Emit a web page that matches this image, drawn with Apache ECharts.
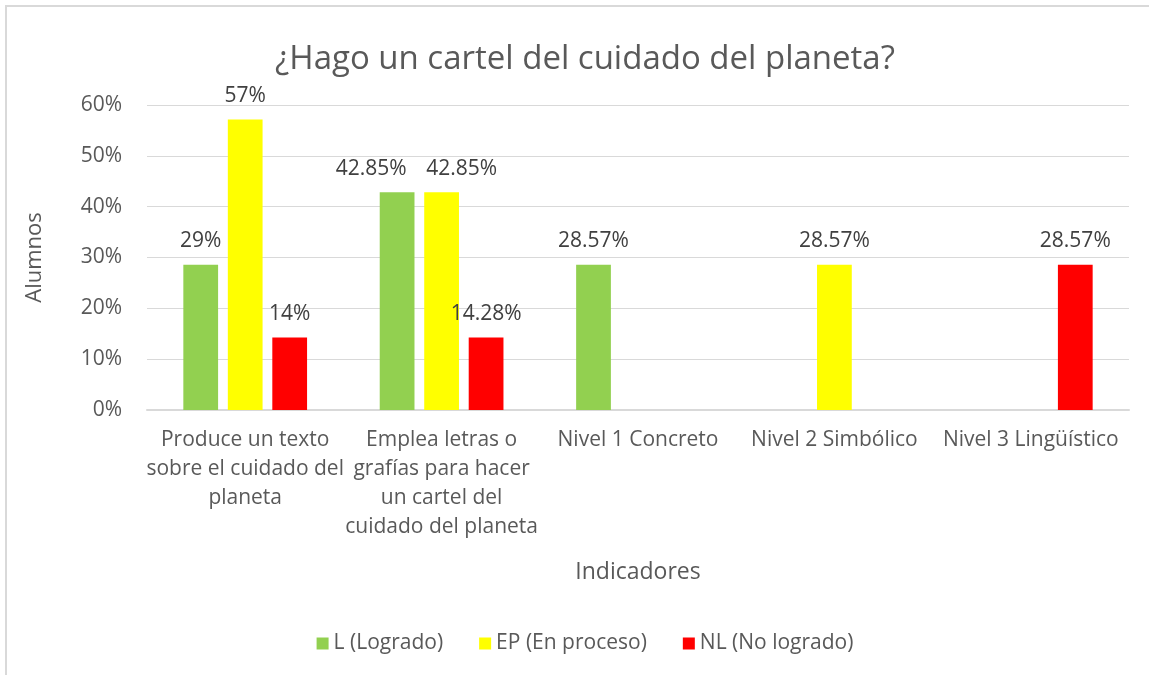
<!DOCTYPE html>
<html>
<head>
<meta charset="utf-8">
<script src="https://cdn.jsdelivr.net/npm/echarts@6/dist/echarts.min.js"></script>
<style>
  html, body { margin: 0; padding: 0; background: #fff; overflow: hidden; }
  #wrap { position: absolute; left: 0; top: 0; width: 1149px; height: 675px; overflow: hidden; }
  /* borde del área del gráfico (solo se ve arriba e izquierda) */
  #frame { position: absolute; left: 5px; top: 5px; width: 1180px; height: 700px;
           border: 2px solid #d9d9d9; box-sizing: border-box; }
  #main { position: absolute; left: 0; top: 0; width: 1170px; height: 675px; }
</style>
</head>
<body>
<div id="wrap">
  <div id="frame"></div>
  <div id="main"></div>
</div>
<script>
// datos
const categories = [
  'Produce un texto\nsobre el cuidado del\nplaneta',
  'Emplea letras o\ngrafías para hacer\nun cartel del\ncuidado del planeta',
  'Nivel 1 Concreto',
  'Nivel 2 Simbólico',
  'Nivel 3 Lingüístico'
];
const seriesNames = ['L (Logrado)', 'EP (En proceso)', 'NL (No logrado)'];
const logrado = [28.57, 42.85, 28.57, null, null];
const enProceso = [57.14, 42.85, null, 28.57, null];
const noLogrado = [14.28, 14.28, null, null, 28.57];
// etiquetas tal como aparecen en el gráfico
const logradoLabels = ['29%', '42.85%', '28.57%', '', ''];
const enProcesoLabels = ['57%', '42.85%', '', '28.57%', ''];
const noLogradoLabels = ['14%', '14.28%', '', '', '28.57%'];
const yTicks = [0, 10, 20, 30, 40, 50, 60];

const colors = ['#92D050', '#FFFF00', '#FF0000'];
const FONT = '"Open Sans", sans-serif';
const TEXT = '#595959';

// desplazamiento horizontal de etiquetas que se solapan (como hace Excel)
const labelShift = [
  [0, -26, 0, 0, 0],
  [0, 20, 0, 0, 0],
  [0, 0, 0, 0, 0]
];

function makeSeries(idx, values, labels) {
  return {
    name: seriesNames[idx],
    type: 'bar',
    data: values,
    itemStyle: { color: colors[idx] },
    barGap: '28%',
    barCategoryGap: '37%',
    label: {
      show: true,
      position: 'top',
      distance: 13,
      fontFamily: FONT,
      fontSize: 21,
      color: '#404040',
      formatter: (p) => labels[p.dataIndex]
    },
    labelLayout: (p) => ({ dx: labelShift[idx][p.dataIndex] })
  };
}

const myChart = echarts.init(document.getElementById('main'));
myChart.setOption({
  animation: false,
  textStyle: { fontFamily: FONT },
  title: {
    text: '¿Hago un cartel del cuidado del planeta?',
    left: 'center',
    top: 38,
    textStyle: { fontFamily: FONT, fontSize: 33, fontWeight: 'normal', color: TEXT }
  },
  legend: {
    bottom: 16,
    left: 'center',
    itemWidth: 12,
    itemHeight: 12,
    itemGap: 36,
    icon: 'rect',
    textStyle: { fontFamily: FONT, fontSize: 21, color: TEXT },
    data: seriesNames
  },
  grid: { left: 147, right: 41, top: 105, bottom: 265 },
  xAxis: {
    type: 'category',
    data: categories,
    name: 'Indicadores',
    nameLocation: 'middle',
    nameGap: 151,
    nameTextStyle: { fontFamily: FONT, fontSize: 23, color: TEXT },
    axisLine: { lineStyle: { color: '#d9d9d9', width: 2 } },
    axisTick: { show: false },
    axisLabel: {
      interval: 0,
      margin: 16,
      fontFamily: FONT,
      fontSize: 21,
      lineHeight: 29,
      color: TEXT
    }
  },
  yAxis: {
    type: 'value',
    min: yTicks[0],
    max: yTicks[yTicks.length - 1],
    interval: 10,
    name: 'Alumnos',
    nameLocation: 'middle',
    nameGap: 101,
    nameTextStyle: { fontFamily: FONT, fontSize: 22, color: TEXT },
    axisLine: { show: false },
    axisTick: { show: false },
    splitLine: { lineStyle: { color: '#d9d9d9', width: 1 } },
    axisLabel: {
      margin: 25,
      fontFamily: FONT,
      fontSize: 21,
      color: TEXT,
      formatter: '{value}%'
    }
  },
  series: [
    makeSeries(0, logrado, logradoLabels),
    makeSeries(1, enProceso, enProcesoLabels),
    makeSeries(2, noLogrado, noLogradoLabels)
  ]
});
</script>
</body>
</html>
